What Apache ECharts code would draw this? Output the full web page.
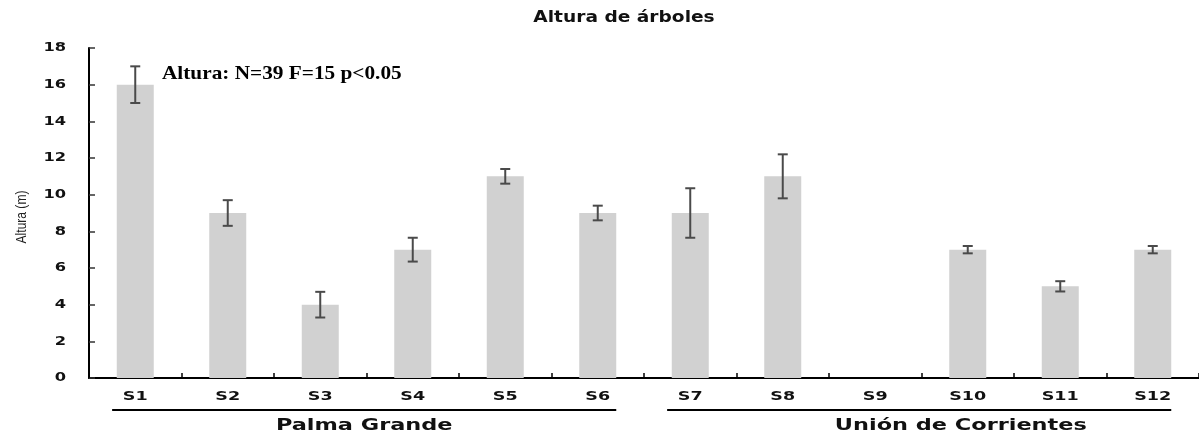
<!DOCTYPE html>
<html>
<head>
<meta charset="utf-8">
<style>
  html, body { margin: 0; padding: 0; background: #fff; }
  #chart { width: 1199px; height: 434px; }
</style>
<script src="https://cdn.jsdelivr.net/npm/echarts@6/dist/echarts.min.js"></script>
</head>
<body>
<div id="chart"></div>
<script>
// Sites and mean tree height per site (m), with the error half-width
const sites = ['S1', 'S2', 'S3', 'S4', 'S5', 'S6', 'S7', 'S8', 'S9', 'S10', 'S11', 'S12'];
const heights = [16, 9, 4, 7, 11, 9, 9, 11, 0, 7, 5, 7];
const errors = [1.0, 0.7, 0.7, 0.65, 0.4, 0.4, 1.35, 1.2, 0, 0.2, 0.28, 0.2];
const yTicks = [0, 2, 4, 6, 8, 10, 12, 14, 16, 18];

// Localities grouping the sites (first and last site index)
const groupNames = ['Palma Grande', 'Unión de Corrientes'];
const groupStart = [0, 6];
const groupEnd = [5, 11];

const chart = echarts.init(document.getElementById('chart'));

const wideFont = (size) => 'bold ' + size + 'px "DejaVu Sans"';

chart.setOption({
  animation: false,
  backgroundColor: '#ffffff',
  grid: { left: 89, top: 48, width: 1114, height: 330, containLabel: false },
  xAxis: {
    type: 'category',
    data: sites,
    axisLine: { lineStyle: { color: '#000', width: 2 } },
    axisTick: { show: true, inside: true, length: 5, alignWithLabel: false, lineStyle: { color: '#000', width: 1.5 } },
    axisLabel: { show: false }
  },
  yAxis: {
    type: 'value',
    min: yTicks[0],
    max: yTicks[yTicks.length - 1],
    interval: 2,
    axisLine: { show: true, lineStyle: { color: '#000', width: 2 } },
    axisTick: { show: true, inside: true, length: 6, lineStyle: { color: '#333', width: 1.5 } },
    axisLabel: { show: false },
    splitLine: { show: false }
  },
  series: [
    {
      type: 'bar',
      data: heights,
      barWidth: '40%',
      itemStyle: { color: '#d1d1d1' },
      z: 2
    },
    {
      type: 'custom',
      z: 3,
      data: heights.map((h, i) => [i, h - errors[i], h + errors[i]]),
      renderItem: function (params, api) {
        const i = api.value(0);
        if (errors[i] === 0) return null;
        const lo = api.coord([i, api.value(1)]);
        const hi = api.coord([i, api.value(2)]);
        const half = 5;
        const style = { stroke: '#4a4a4a', lineWidth: 2 };
        return {
          type: 'group',
          children: [
            { type: 'line', shape: { x1: lo[0], y1: lo[1], x2: hi[0], y2: hi[1] }, style: style },
            { type: 'line', shape: { x1: hi[0] - half, y1: hi[1], x2: hi[0] + half, y2: hi[1] }, style: style },
            { type: 'line', shape: { x1: lo[0] - half, y1: lo[1], x2: lo[0] + half, y2: lo[1] }, style: style }
          ]
        };
      }
    }
  ]
});

// Text drawn as widened bold labels, placed from the axes
const graphics = [];
const xPix = (c) => chart.convertToPixel({ xAxisIndex: 0 }, c);
const yPix = (v) => chart.convertToPixel({ yAxisIndex: 0 }, v);
const baseY = yPix(0);
const step = xPix(sites[1]) - xPix(sites[0]);
const leftX = xPix(sites[0]) - step / 2;

function label(text, x, y, font, align, sx, fill) {
  return {
    type: 'text', x: x, y: y, scaleX: sx, z: 10,
    style: { text: text, align: align, verticalAlign: 'middle', font: font, fill: fill || '#111' }
  };
}

// Chart title
graphics.push(label('Altura de árboles', 624, 18, wideFont(15), 'center', 1.24));

// Site labels
sites.forEach((s) => graphics.push(label(s, xPix(s), baseY + 19, wideFont(13), 'center', 1.35)));

// Height tick labels
yTicks.forEach((v) => graphics.push(label(String(v), leftX - 23, yPix(v), wideFont(13), 'right', 1.25)));

// Axis title, set upright along the height axis in a condensed face
graphics.push({
  type: 'text', x: 22, y: (yPix(yTicks[0]) + yPix(yTicks[yTicks.length - 1])) / 2 + 4,
  rotation: Math.PI / 2, scaleX: 0.86, z: 10,
  style: { text: 'Altura (m)', align: 'center', verticalAlign: 'middle', font: '14px "Liberation Sans"', fill: '#222' }
});

// Group underlines and locality names beneath the site labels
const lineY = baseY + 32;
const nameShift = [0, 0.45];
groupNames.forEach((name, g) => {
  const x1 = xPix(sites[groupStart[g]]) - step * 0.25;
  const x2 = xPix(sites[groupEnd[g]]) + step * 0.2;
  graphics.push({
    type: 'line',
    shape: { x1: x1, y1: lineY, x2: x2, y2: lineY },
    style: { stroke: '#000', lineWidth: 2 }
  });
  graphics.push(label(name, (x1 + x2) / 2 + nameShift[g] * step, lineY + 16, wideFont(16), 'center', 1.4));
});

// Statistical annotation
graphics.push(label('Altura: N=39 F=15 p<0.05', 162, 74, 'bold 19px "Liberation Serif"', 'left', 1.12, '#000'));

chart.setOption({ graphic: graphics });
</script>
</body>
</html>
